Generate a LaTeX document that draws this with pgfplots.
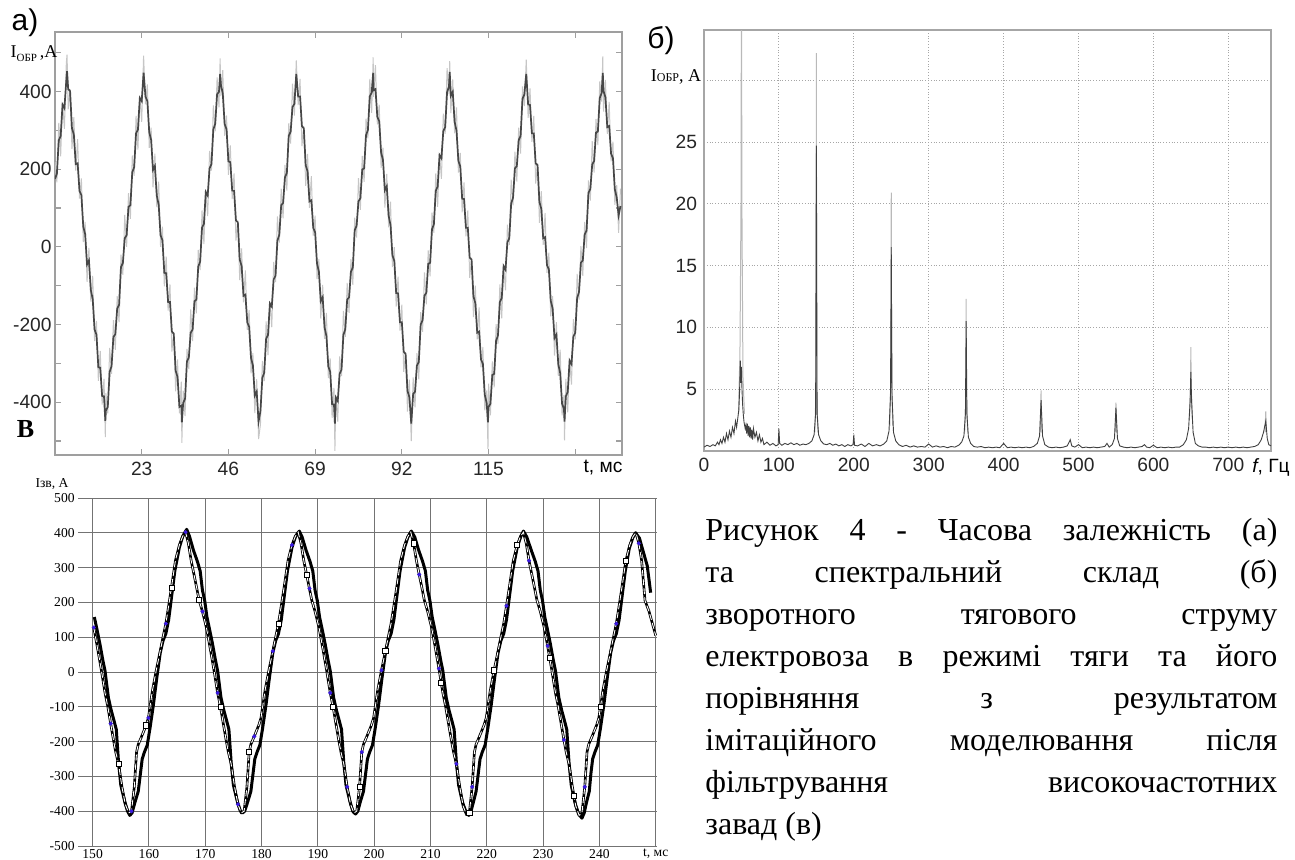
\documentclass[border=0pt]{standalone}
\usepackage{pgfplots}
\pgfplotsset{compat=1.18}
\usepackage{pgfplotstable}
\usepackage{fontspec}
\setmainfont{Liberation Serif}
\newfontfamily\arial{Liberation Sans}
\definecolor{modelblue}{HTML}{3A1AE0}

% panel a: measured current, t (ms), dark trace d, light spikes g
\pgfplotstableread{
t d g
0 175 218
0.5 188 166
1.0 274 319
1.5 285 233
2.0 366 371
2.5 357 304
3.0 428 473
3.2 452 495
3.5 406 354
4.0 401 406
4.5 305 252
5.0 289 334
5.5 213 196
6.0 215 277
6.5 144 124
7.0 133 176
7.5 52 12
8.0 32 64
8.5 -45 -90
9.0 -35 -3
9.5 -111 -141
10.0 -135 -75
10.5 -213 -243
11.0 -226 -191
11.5 -310 -345
12.0 -311 -268
12.5 -384 -406
13.0 -385 -340
13.35 -448 -490
13.5 -422 -377
14.0 -412 -429
14.5 -322 -260
15.0 -307 -327
15.5 -232 -189
16.0 -225 -265
16.5 -159 -127
17.0 -149 -194
17.5 -52 -20
18.0 -42 -72
18.5 22 82
19.0 30 0
19.5 103 138
20.0 107 72
20.5 192 235
21.0 205 183
21.5 292 337
22.0 302 250
22.5 383 388
23.0 375 322
23.5 448 492
24.0 387 367
24.5 375 418
25.0 295 255
25.5 275 307
26.0 198 153
26.5 208 240
27.0 132 102
27.5 108 168
28.0 30 0
28.5 17 52
29.0 -67 -102
29.5 -68 -25
30.0 -142 -164
30.5 -142 -97
31.0 -218 -270
31.5 -224 -219
32.0 -319 -372
32.5 -335 -290
33.0 -412 -429
33.5 -409 -347
33.65 -452 -505
34.0 -402 -370
34.5 -391 -436
35.0 -295 -263
35.5 -285 -315
36.0 -221 -161
36.5 -213 -243
37.0 -140 -105
37.5 -136 -171
38.0 -51 -8
38.5 -38 -60
39.0 49 94
39.5 59 7
40.0 141 146
40.5 132 79
41.0 202 247
41.5 213 196
42.0 302 364
42.5 317 297
43.0 393 436
43.5 399 359
43.8 445 485
44.0 418 388
44.5 395 455
45.0 316 286
45.5 303 338
46.0 220 185
46.5 218 261
47.0 145 123
47.5 144 189
48.0 68 16
48.5 63 68
49.0 -33 -86
49.5 -49 -4
50.0 -126 -143
50.5 -123 -61
51.0 -194 -214
51.5 -206 -163
52.0 -286 -326
52.5 -306 -274
53.0 -383 -428
53.5 -373 -341
54.0 -450 -495
54.5 -422 -457
55.0 -337 -294
55.5 -324 -346
56.0 -237 -192
56.5 -227 -279
57.0 -146 -141
57.5 -154 -207
58.0 -84 -39
58.5 -74 -91
59.0 16 78
59.5 31 11
60.0 107 150
60.5 113 73
61.0 179 211
61.5 190 145
62.0 286 318
62.5 296 266
63.0 360 420
63.5 368 338
64.0 445 480
64.5 387 365
65.0 387 432
65.5 311 259
66.0 305 310
66.5 210 157
67.0 194 239
67.5 117 100
68.0 120 182
68.5 49 29
69.0 37 80
69.5 -43 -83
70.0 -64 -32
70.5 -140 -185
71.0 -130 -98
71.5 -207 -237
72.0 -230 -170
72.5 -308 -338
73.0 -322 -287
73.5 -405 -440
74.0 -406 -363
74.25 -455 -525
74.5 -388 -383
75.0 -397 -450
75.5 -327 -282
76.0 -316 -333
76.5 -227 -165
77.0 -212 -232
77.5 -136 -93
78.0 -130 -170
78.5 -64 -32
79.0 -53 -98
79.5 43 75
80.0 54 24
80.5 117 177
81.0 125 95
81.5 199 234
82.0 202 167
82.5 287 330
83.0 301 279
83.5 387 432
84.0 397 345
84.4 448 488
84.5 403 386
85.0 406 468
85.5 335 315
86.0 323 366
86.5 243 203
87.0 223 255
87.5 146 101
88.0 156 188
88.5 80 50
89.0 56 116
89.5 -22 -52
90.0 -36 -1
90.5 -119 -154
91.0 -120 -77
91.5 -194 -216
92.0 -194 -149
92.5 -270 -322
93.0 -276 -271
93.5 -371 -424
94.0 -387 -342
94.5 -455 -500
95.0 -379 -336
95.5 -373 -413
96.0 -306 -274
96.5 -296 -341
97.0 -200 -168
97.5 -189 -219
98.0 -126 -66
98.5 -118 -148
99.0 -44 -9
99.5 -41 -76
100.0 45 88
100.5 58 36
101.0 144 189
101.5 155 103
102.0 236 241
102.5 228 175
103.0 298 343
103.5 308 291
104.0 398 460
104.5 413 393
104.7 450 478
105.0 389 344
105.5 399 431
106.0 322 292
106.5 299 359
107.0 221 191
107.5 207 242
108.0 124 89
108.5 123 166
109.0 49 27
109.5 49 94
110.0 -28 -80
110.5 -33 -28
111.0 -128 -181
111.5 -145 -100
112.0 -221 -238
112.5 -218 -156
113.0 -290 -310
113.5 -301 -258
114.0 -381 -421
114.5 -402 -370
114.85 -452 -520
115.0 -412 -352
115.5 -404 -434
116.0 -330 -295
116.5 -327 -362
117.0 -242 -199
117.5 -228 -250
118.0 -142 -97
118.5 -132 -184
119.0 -50 -45
119.5 -59 -112
120.0 12 57
120.5 22 5
121.0 111 173
121.5 127 107
122.0 202 245
122.5 208 168
123.0 275 307
123.5 285 240
124.0 381 413
124.5 392 362
125.0 445 482
125.5 367 332
126.0 365 408
126.5 292 270
127.0 292 337
127.5 215 163
128.0 210 215
128.5 115 62
129.0 98 143
129.5 22 5
130.0 25 87
130.5 -47 -67
131.0 -58 -15
131.5 -139 -179
132.0 -159 -127
132.5 -235 -280
133.0 -226 -194
133.5 -302 -332
134.0 -325 -265
134.5 -404 -434
135.0 -417 -382
135.15 -450 -498
135.5 -385 -340
136.0 -374 -426
136.5 -293 -288
137.0 -302 -355
137.5 -231 -186
138.0 -221 -238
138.5 -132 -70
139.0 -116 -136
139.5 -41 2
140.0 -35 -75
140.5 32 64
141.0 42 -3
141.5 139 171
142.0 149 119
142.5 212 272
143.0 221 191
143.5 294 329
144.0 297 262
144.5 383 426
145.0 396 374
145.3 448 490
145.5 401 348
146.0 385 430
146.5 308 291
147.0 311 373
147.5 240 220
148.0 228 271
148.5 148 108
149.0 127 159
149.5 81 36
150.0 105 150
}\siga

% panel b: spectrum, f (Hz), amplitude (A)
\pgfplotstableread{
f a
0 0.3
4 0.45
8 0.35
12 0.5
15 0.4
18 0.7
20 0.5
22 0.9
24 0.6
26 1.1
28 0.7
30 1.4
32 0.9
34 1.6
36 1.1
38 1.9
40 1.4
42 2.4
43.5 1.9
45 2.6
46.5 3.3
47.5 4.8
48.5 7.3
49.3 5.5
50 6.8
50.7 5.0
51.5 3.8
52.5 2.9
53.5 2.3
55 1.8
56 2.1
57 1.4
58 2.2
59 1.2
60 2.0
61 1.1
62 1.9
63 1.0
64 1.7
65 0.9
66 1.8
68 1.1
70 1.5
72 0.8
74 1.3
76 0.7
78 1.0
80 0.5
84 0.7
88 0.45
92 0.6
96 0.4
99 0.5
100 1.8
101 0.6
104 0.45
108 0.6
112 0.5
116 0.65
120 0.5
124 0.6
128 0.45
132 0.55
136 0.5
140 0.6
144 0.8
147 1.3
149 3.0
150 24.7
151 3.0
153 1.3
156 0.8
160 0.55
164 0.5
168 0.6
172 0.45
176 0.55
180 0.4
184 0.5
188 0.35
192 0.5
196 0.4
199 0.5
200 1.3
201 0.45
205 0.4
210 0.55
215 0.35
220 0.6
225 0.4
230 0.5
235 0.4
240 0.55
244 0.8
247 1.6
249 4.5
250 16.5
251 4.5
253 1.5
256 0.8
260 0.5
265 0.35
270 0.45
275 0.3
280 0.4
285 0.3
290 0.35
295 0.3
300 0.55
305 0.3
310 0.4
315 0.3
320 0.35
325 0.25
330 0.35
335 0.3
340 0.45
344 0.7
347 1.2
349 3.0
350 10.5
351 3.0
353 1.1
356 0.6
360 0.35
365 0.3
370 0.35
375 0.25
380 0.3
385 0.25
390 0.3
395 0.25
400 0.6
405 0.25
410 0.3
415 0.25
420 0.3
425 0.25
430 0.3
435 0.25
440 0.35
445 0.6
448 1.2
450 4.1
452 1.2
455 0.5
460 0.3
465 0.25
470 0.3
475 0.25
480 0.3
485 0.4
489 0.9
491 0.4
495 0.3
500 0.5
505 0.25
510 0.3
515 0.25
520 0.3
525 0.25
530 0.3
535 0.35
538 0.6
541 0.3
545 0.5
548 1.0
550 3.5
552 1.0
555 0.4
560 0.3
565 0.25
570 0.3
575 0.25
580 0.3
585 0.35
588 0.5
591 0.3
595 0.25
600 0.45
605 0.25
610 0.3
615 0.25
620 0.3
625 0.25
630 0.3
635 0.3
640 0.5
644 0.9
647 1.8
649 4.0
650 6.4
651 4.0
653 1.5
656 0.6
660 0.4
665 0.3
670 0.3
675 0.25
680 0.3
685 0.25
690 0.3
695 0.25
700 0.3
705 0.25
710 0.3
715 0.25
720 0.3
725 0.25
730 0.3
735 0.35
740 0.5
744 0.9
747 1.5
750 2.4
752 1.0
754 0.5
757 0.4
}\specb

% panel v: measured (solid) current, t (ms), I (A)
\pgfplotstableread{
t v
150.3 158
150.8 120
151.3 80
151.8 35
152.2 3
152.8 -74
153.3 -110
153.8 -140
154.2 -165
154.6 -260
155.0 -325
155.7 -372
156.2 -400
156.6 -412
157.0 -405
157.5 -375
158.1 -343
158.5 -290
158.8 -250
159.2 -230
159.7 -210
160.2 -160
160.8 -93
161.4 -16
162.0 55
162.5 90
163.0 110
163.5 150
164.0 214
164.6 291
165.4 358
166.0 390
166.7 410
167.2 390
167.9 350
168.6 318
169.1 290
169.5 235
169.9 205
170.3 158
170.8 120
171.3 80
171.8 35
172.2 3
172.8 -74
173.3 -110
173.8 -140
174.2 -165
174.6 -260
175.0 -325
175.7 -372
176.2 -398
176.6 -405
177.0 -400
177.5 -375
178.1 -343
178.5 -290
178.8 -250
179.2 -230
179.7 -210
180.2 -160
180.8 -93
181.4 -16
182.0 55
182.5 90
183.0 110
183.5 150
184.0 214
184.6 291
185.4 358
186.0 388
186.7 405
187.2 388
187.9 350
188.6 318
189.1 290
189.5 235
189.9 205
190.3 158
190.8 120
191.3 80
191.8 35
192.2 3
192.8 -74
193.3 -110
193.8 -140
194.2 -165
194.6 -260
195.0 -325
195.7 -372
196.2 -400
196.7 -408
197.1 -400
197.5 -375
198.1 -343
198.5 -290
198.8 -250
199.2 -230
199.7 -210
200.2 -160
200.8 -93
201.4 -16
202.0 55
202.5 90
203.0 110
203.5 150
204.0 214
204.6 291
205.4 358
206.0 388
206.6 405
207.2 388
207.9 350
208.6 318
209.1 290
209.5 235
209.9 205
210.3 158
210.8 120
211.3 80
211.8 35
212.2 3
212.8 -74
213.3 -110
213.8 -140
214.2 -165
214.6 -260
215.0 -325
215.7 -375
216.3 -402
216.8 -412
217.2 -400
217.6 -375
218.1 -343
218.5 -290
218.8 -250
219.2 -230
219.7 -210
220.2 -160
220.8 -93
221.4 -16
222.0 55
222.5 90
223.0 110
223.5 150
224.0 214
224.6 291
225.4 358
226.0 388
226.5 405
227.1 388
227.9 350
228.6 318
229.1 290
229.5 235
229.9 205
230.3 158
230.8 120
231.3 80
231.8 35
232.2 3
232.8 -74
233.3 -110
233.8 -140
234.2 -165
234.6 -260
235.0 -325
235.7 -378
236.3 -408
236.9 -420
237.3 -405
237.7 -375
238.2 -343
238.5 -290
238.8 -250
239.2 -230
239.7 -210
240.2 -160
240.8 -93
241.4 -16
242.0 55
242.5 90
243.0 110
243.5 150
244.0 214
244.6 291
245.3 355
245.9 385
246.4 400
247.1 385
247.8 345
248.5 305
249.1 228
}\solidv

% panel v: model (dashed) current
\pgfplotstableread{
t v
150.2 128
150.8 75
151.5 10
152.2 -60
152.7 -100
153.2 -148
153.7 -195
154.1 -230
154.6 -264
155.2 -330
155.8 -380
156.4 -405
156.9 -400
157.4 -330
157.8 -230
158.1 -208
158.7 -185
159.5 -153
159.9 -132
160.6 -55
161.3 5
162.0 60
162.5 100
163.0 139
163.5 190
164.0 243
164.7 320
165.4 365
166.0 390
166.5 402
167.0 370
167.5 320
168.0 280
168.5 240
168.9 207
169.5 174
170.2 128
170.8 75
171.5 10
172.2 -60
172.7 -100
173.2 -148
173.7 -195
174.1 -230
174.6 -264
175.2 -330
175.8 -380
176.4 -405
176.9 -400
177.4 -330
177.8 -230
178.1 -208
178.7 -185
179.5 -153
179.9 -132
180.6 -55
181.3 5
182.0 60
182.5 100
183.0 139
183.5 190
184.0 243
184.7 320
185.4 365
186.0 390
186.5 402
187.0 370
187.5 320
188.0 280
188.5 240
188.9 207
189.5 174
190.2 128
190.8 75
191.5 10
192.2 -60
192.7 -100
193.2 -148
193.7 -195
194.1 -230
194.6 -264
195.2 -330
195.8 -380
196.4 -405
196.9 -400
197.4 -330
197.8 -230
198.1 -208
198.7 -185
199.5 -153
199.9 -132
200.6 -55
201.3 5
202.0 60
202.5 100
203.0 139
203.5 190
204.0 243
204.7 320
205.4 365
206.0 390
206.5 402
207.0 370
207.5 320
208.0 280
208.5 240
208.9 207
209.5 174
210.2 128
210.8 75
211.5 10
212.2 -60
212.7 -100
213.2 -148
213.7 -195
214.1 -230
214.6 -264
215.2 -330
215.8 -385
216.4 -410
216.9 -405
217.4 -330
217.8 -230
218.1 -208
218.7 -185
219.5 -153
219.9 -132
220.6 -55
221.3 5
222.0 60
222.5 100
223.0 139
223.5 190
224.0 243
224.7 320
225.4 365
226.0 390
226.5 402
227.0 370
227.5 320
228.0 280
228.5 240
228.9 207
229.5 174
230.2 128
230.8 75
231.5 10
232.2 -60
232.7 -100
233.2 -148
233.7 -195
234.1 -230
234.6 -264
235.2 -330
235.8 -385
236.4 -412
236.9 -405
237.4 -330
237.8 -230
238.1 -208
238.7 -185
239.5 -153
239.9 -132
240.6 -55
241.3 5
242.0 60
242.5 100
243.0 139
243.5 190
244.0 243
244.7 320
245.4 365
246.0 390
246.5 400
247.0 370
247.5 320
248.1 205
248.8 175
249.4 140
250.0 105
}\modelv

\begin{document}
\begin{tikzpicture}

% ---------- а) time series ----------
\begin{axis}[
    at={(27.5pt,-227.5pt)}, anchor=south west,
    scale only axis, width=283.5pt, height=211.5pt,
    xmin=0, xmax=150.4, ymin=-536, ymax=553,
    axis line style={draw=gray!75, line width=0.8pt},
    tick align=inside, major tick length=3pt, minor tick length=3pt,
    tick style={gray!75, line width=0.6pt},
    xtick={23,46,69,92,115,138}, xticklabels={23,46,69,92,115,},
    ytick={-400,-200,0,200,400}, yticklabels={-400,-200,0,200,400},
    minor ytick={-500,-300,-100,100,300,500},
    tick label style={font=\arial\fontsize{9.6}{11}\selectfont, text=black!85},
    yticklabel style={inner sep=1.5pt},
]
\addplot[gray!45, line width=0.5pt] table[x=t, y=g] {\siga};
\addplot[black!72, line width=0.85pt] table[x=t, y=d] {\siga};
\end{axis}

% ---------- б) spectrum ----------
\begin{axis}[
    at={(352pt,-225.4pt)}, anchor=south west,
    scale only axis, width=283.5pt, height=210.4pt,
    xmin=0, xmax=757, ymin=0, ymax=34.07,
    axis line style={draw=gray!70, line width=0.7pt},
    major tick length=0pt,
    xtick={0,100,...,700}, xticklabels={0,100,200,300,400,500,600,700},
    ytick={0,5,...,30}, yticklabels={,5,10,15,20,25,},
    grid=major, grid style={gray!70, densely dotted, line width=0.5pt},
    tick label style={font=\arial\fontsize{9.6}{11}\selectfont, text=black!85},
]
\addplot[gray!55, line width=0.5pt] coordinates {(46,3)(48,8)(49.4,20)(50,40)(50.6,20)(52,6)(54,3)};
\addplot[gray!55, line width=0.5pt] coordinates {(148,1.5)(149.5,5)(150,32.2)(150.5,5)(152,1.5)};
\addplot[gray!55, line width=0.5pt] coordinates {(248,2)(249.5,6)(250,20.9)(250.5,6)(252,2)};
\addplot[gray!55, line width=0.5pt] coordinates {(348,1.5)(349.5,4)(350,12.3)(350.5,4)(352,1.5)};
\addplot[gray!55, line width=0.5pt] coordinates {(449,1.5)(450,4.9)(451,1.5)};
\addplot[gray!55, line width=0.5pt] coordinates {(549,1.5)(550,3.9)(551,1.5)};
\addplot[gray!55, line width=0.5pt] coordinates {(648,2.5)(649.5,5)(650,8.4)(650.5,5)(652,2.5)};
\addplot[gray!55, line width=0.5pt] coordinates {(749,1.5)(750,3.2)(751,1.5)};
\addplot[black!75, line width=0.45pt] table[x=f, y=a] {\specb};
\end{axis}

% ---------- в) comparison ----------
\begin{axis}[
    at={(39pt,-423pt)}, anchor=south west,
    scale only axis, width=289.7pt, height=174pt,
    xmin=147.4, xmax=250.3, ymin=-500, ymax=500,
    axis line style={draw=none},
    major tick length=0pt,
    xtick={150,160,...,250},
    xticklabels={150,160,170,180,190,200,210,220,230,240,{t, мс}},
    ytick={-500,-400,...,500},
    yticklabels={-500,-400,-300,-200,-100,0,100,200,300,400,500},
    grid=major, grid style={black!55, line width=0.5pt},
    tick label style={font=\fontsize{6.8}{8}\selectfont},
    xticklabel style={yshift=2pt},
    yticklabel style={inner sep=1.5pt},
]
\addplot[black, line width=1.5pt, line join=round] table[x=t, y=v] {\solidv};
\addplot[black, line width=1.3pt, line join=round] table[x=t, y=v] {\modelv};
\addplot[white, line width=0.45pt, dash pattern=on 3pt off 1.5pt] table[x=t, y=v] {\modelv};
\addplot[only marks, mark=square*, mark size=1.3pt,
    mark options={fill=white, draw=black, line width=0.35pt}]
    coordinates {(154.6,-264)(159.5,-153)(164.0,243)(168.9,207)(172.7,-100)
    (177.8,-230)(183.0,139)(188.0,280)(192.7,-100)(197.4,-330)(202.0,60)
    (207.0,370)(211.9,-30)(216.9,-405)(221.3,5)(225.4,365)(231.2,40)
    (235.5,-355)(240.2,-99)(244.7,320)};
\addplot[only marks, mark=*, mark size=0.8pt, modelblue]
    coordinates {(150.2,128)(153.2,-148)(156.9,-400)(159.9,-132)(163.0,139)
    (166.5,402)(169.5,174)(172.2,-60)(175.8,-380)(178.7,-185)(182.0,60)
    (185.4,365)(188.5,240)(192.2,-60)(195.2,-330)(197.8,-230)(201.3,5)
    (208.0,280)(211.5,10)(214.6,-264)(217.4,-330)(223.5,190)(227.5,320)
    (230.8,75)(233.7,-195)(237.4,-330)(243.0,139)(247.0,370)};
\end{axis}

% ---------- labels and caption (pixel grid of the reference) ----------
\begin{scope}[x=0.5pt, y=-0.5pt]
\node[font=\arial\fontsize{15}{15}\selectfont] at (25,23) {а)};
\node[font=\fontsize{9}{9}\selectfont, inner sep=0pt] at (34,54)
    {I\raisebox{-0.5ex}{\fontsize{5.5}{5.5}\selectfont ОБР}\,,A};
\node[font=\arial\fontsize{9.6}{11}\selectfont] at (603,468) {t, мс};
\node[font=\bfseries\fontsize{13}{13}\selectfont] at (25.5,429) {В};
\node[font=\arial\fontsize{15}{15}\selectfont] at (661,41) {б)};
\node[font=\fontsize{9}{9}\selectfont, inner sep=0pt] at (676,77)
    {I{\fontsize{6}{6}\selectfont ОБР}, A};
\node[font=\arial\fontsize{9.6}{11}\selectfont] at (1271,467) {\textit{f}, Гц};
\node[font=\fontsize{6.8}{8}\selectfont, inner sep=0pt] at (52,484) {Iзв, A};

\begin{scope}[every node/.style={anchor=base west, inner sep=0pt,
    font=\rmfamily\fontsize{16}{21}\selectfont}]
\node at (705,540) {\makebox[286pt][s]{Рисунок 4 - Часова залежність (а)}};
\node at (705,582) {\makebox[286pt][s]{та спектральний склад (б)}};
\node at (705,624) {\makebox[286pt][s]{зворотного тягового струму}};
\node at (705,666) {\makebox[286pt][s]{електровоза в режимі тяги та його}};
\node at (705,708) {\makebox[286pt][s]{порівняння з результатом}};
\node at (705,750) {\makebox[286pt][s]{імітаційного моделювання після}};
\node at (705,792) {\makebox[286pt][s]{фільтрування високочастотних}};
\node at (705,834) {завад (в)};
\end{scope}
\end{scope}

\pgfresetboundingbox
\useasboundingbox (0pt,0pt) rectangle (647.5pt,-429.5pt);
\end{tikzpicture}
\end{document}
